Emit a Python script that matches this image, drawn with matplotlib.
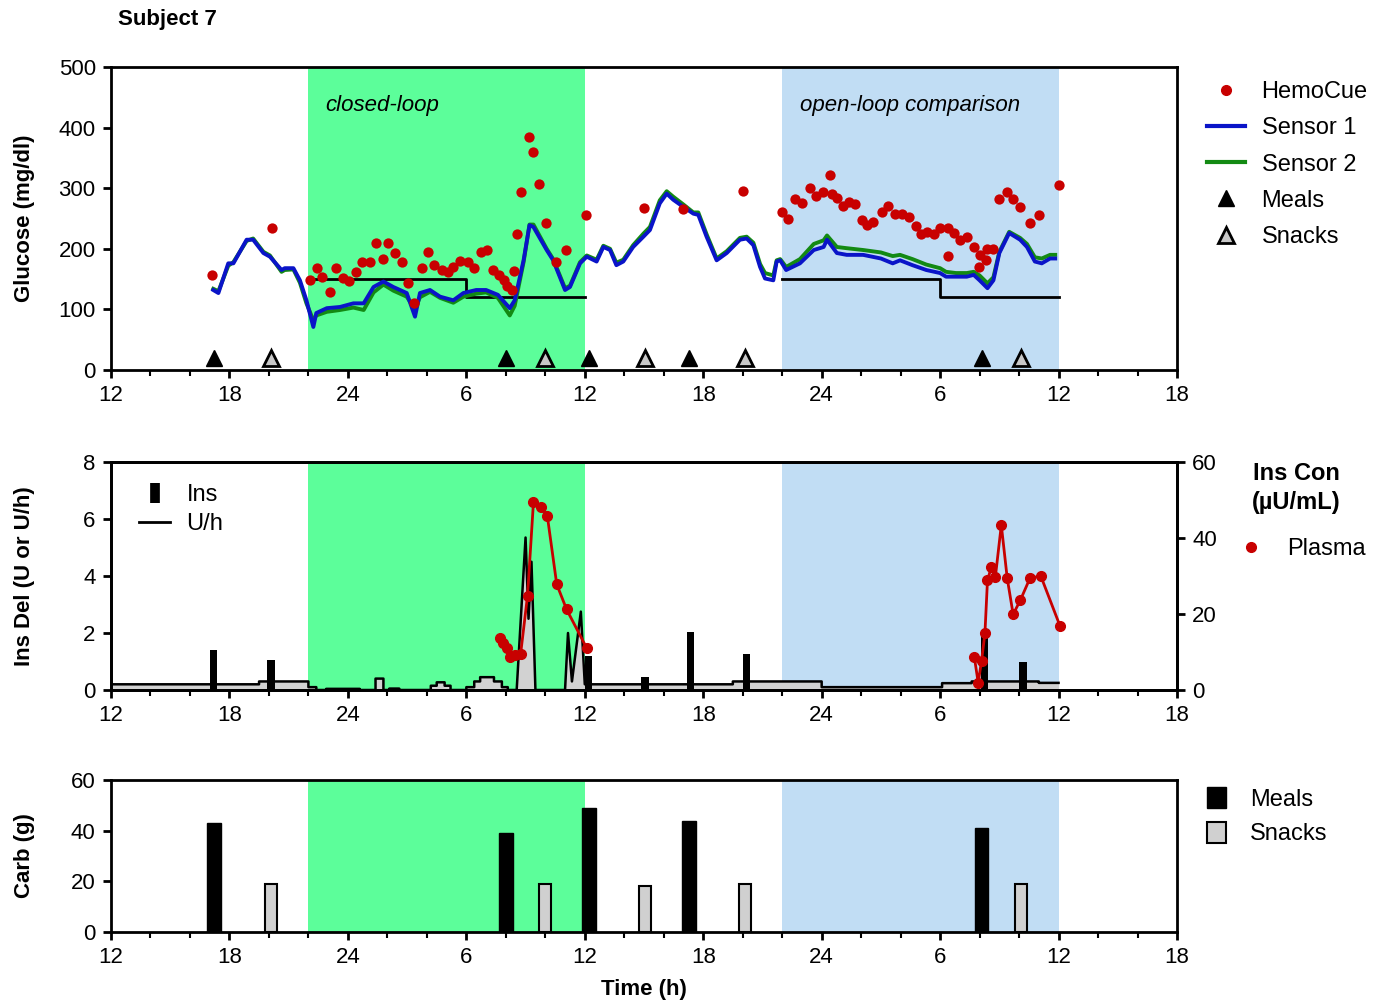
import matplotlib
matplotlib.use("Agg")
import matplotlib.pyplot as plt
from matplotlib.lines import Line2D
from matplotlib.patches import Patch
import numpy as np

plt.rcParams['font.family'] = ['Liberation Sans', 'DejaVu Sans']

# ---------------- data ----------------
x_ticks = [12, 18, 24, 30, 36, 42, 48, 54, 60, 66]
x_ticklabels = ['12', '18', '24', '6', '12', '18', '24', '6', '12', '18']
closed_loop = (22, 36)
open_loop = (46, 60)

sensor1_t = [17.18, 17.44, 17.94, 18.2, 18.87, 19.2, 19.72, 20.05, 20.64, 20.8, 21.24, 21.57,
             21.9, 22.25, 22.4, 22.93, 23.6, 24.28, 24.8, 25.3, 25.8, 26.3, 26.98, 27.4, 27.65,
             28.16, 28.67, 29.34, 29.85, 30.5, 31.0, 31.6, 32.2, 32.45, 32.9, 33.2, 33.4, 34.07,
             34.4, 35.0, 35.25, 35.76, 36.1, 36.6, 36.94, 37.28, 37.6, 37.95, 38.45, 38.97, 39.3,
             39.8, 40.15, 40.48, 41.0, 41.5, 41.75, 42.17, 42.68, 43.19, 43.86, 44.2, 44.54, 44.88,
             45.13, 45.55, 45.72, 45.9, 46.2, 46.9, 47.6, 48.1, 48.27, 48.77, 49.27, 50.1, 51.0,
             51.6, 51.97, 52.6, 53.3, 54.0, 54.3, 54.8, 55.35, 55.7, 56.0, 56.4, 56.7, 57.0, 57.5,
             58.05, 58.4, 58.8, 59.15, 59.57, 59.83]
sensor1_g = [132, 127, 176, 176, 215, 215, 193, 187, 165, 168, 168, 148,
             115, 71, 94, 102, 104, 110, 110, 137, 146, 137, 127, 88, 127,
             132, 121, 115, 127, 132, 132, 124, 102, 115, 181, 239, 236, 198,
             181, 132, 137, 176, 187, 179, 203, 198, 173, 179, 203, 220, 231,
             275, 291, 281, 269, 258, 256, 220, 181, 193, 215, 217, 206, 170,
             151, 148, 179, 181, 165, 176, 198, 203, 215, 193, 190, 190, 184,
             176, 181, 173, 165, 160, 154, 154, 154, 157, 148, 135, 148, 193, 226,
             215, 203, 179, 176, 184, 184]
sensor2_g = [134, 130, 172, 178, 213, 217, 195, 189, 162, 165, 166, 144,
             110, 82, 90, 96, 99, 103, 99, 128, 141, 131, 121, 100, 120,
             129, 119, 111, 121, 126, 128, 119, 90, 106, 178, 240, 240, 200,
             183, 135, 139, 178, 189, 182, 205, 200, 177, 182, 206, 225, 236,
             280, 295, 286, 273, 260, 260, 224, 184, 196, 218, 220, 210, 175,
             160, 156, 181, 183, 170, 183, 208, 214, 222, 203, 201, 198, 194,
             188, 190, 183, 174, 168, 162, 160, 160, 162, 156, 143, 153, 195, 228,
             218, 208, 186, 184, 190, 190]

hemocue_t = [17.1, 20.14, 22.08, 22.42, 22.67, 23.1, 23.4, 23.77, 24.07, 24.4, 24.7, 25.1,
             25.42, 25.76, 26.05, 26.4, 26.72, 27.06, 27.37, 27.74, 28.08, 28.38, 28.75, 29.06,
             29.34, 29.68, 30.07, 30.4, 30.74, 31.06, 31.37, 31.67, 31.9, 32.08, 32.3, 32.42,
             32.55, 32.76, 33.18, 33.4, 33.7, 34.04, 34.54, 35.05, 36.06, 39.0, 41.0, 44.0,
             46.0, 46.3, 46.65, 47.0, 47.4, 47.7, 48.05, 48.4, 48.5, 48.8, 49.1, 49.4, 49.7,
             50.03, 50.3, 50.6, 51.04, 51.38, 51.7, 52.05, 52.44, 52.78, 53.02, 53.32, 53.7,
             54.0, 54.42, 54.4, 54.72, 55.0, 55.35, 55.7, 55.95, 56.03, 56.3, 56.4, 56.7,
             57.0, 57.37, 57.7, 58.05, 58.55, 59.0, 60.03]
hemocue_g = [157, 234, 148, 168, 154, 128, 168, 151, 147, 162, 179, 179,
             210, 183, 209, 193, 179, 143, 110, 169, 194, 173, 165, 161,
             170, 180, 179, 168, 194, 198, 165, 157, 148, 139, 132, 164,
             224, 293, 385, 360, 307, 242, 179, 198, 256, 267, 266, 295,
             260, 249, 283, 276, 300, 287, 294, 321, 291, 284, 271, 278, 274,
             248, 239, 245, 260, 270, 258, 258, 253, 238, 224, 228, 224,
             234, 234, 188, 226, 215, 220, 203, 170, 190, 181, 200, 200,
             283, 294, 283, 269, 242, 256, 306]

target_t = [22, 30, 36]
target_g = [150, 120, 120]
target2_t = [46, 54, 60]
target2_g = [150, 120, 120]

meal_t = [17.2, 32.0, 36.2, 41.3, 56.1]
meal_carb = [43, 39, 49, 44, 41]
snack_t = [20.1, 34.0, 39.05, 44.1, 58.1]
snack_carb = [19, 19, 18, 19, 19]

bolus_t = [17.2, 20.1, 36.2, 39.05, 41.35, 44.2, 56.25, 58.2]
bolus_u = [1.4, 1.05, 1.2, 0.45, 2.05, 1.25, 1.9, 1.0]

rate_t = [12.0, 19.5, 19.5, 22.0, 22.0, 22.4, 22.4, 22.9, 22.9, 24.6, 24.6, 25.4, 25.4,
          25.8, 25.8, 26.1, 26.1, 26.6, 26.6, 28.2, 28.2, 28.5, 28.5, 28.9, 28.9, 29.2,
          29.2, 30.0, 30.0, 30.4, 30.4, 30.7, 30.7, 31.4, 31.4, 31.8, 31.8, 32.1, 32.1,
          32.55, 33.0, 33.15, 33.3, 33.5, 35.0, 35.15, 35.35, 35.8, 36.0, 36.0, 43.5, 43.5,
          48.0, 48.0, 54.1, 54.1, 55.6, 55.6, 59.0, 59.0, 60.0]
rate_u = [0.2, 0.2, 0.3, 0.3, 0.1, 0.1, 0.0, 0.0, 0.04, 0.04, 0.0, 0.0, 0.4,
          0.4, 0.0, 0.0, 0.05, 0.05, 0.0, 0.0, 0.15, 0.15, 0.27, 0.27, 0.15, 0.15,
          0.0, 0.0, 0.1, 0.1, 0.3, 0.3, 0.45, 0.45, 0.3, 0.3, 0.1, 0.1, 0.0,
          0.0, 5.35, 2.5, 4.5, 0.0, 0.0, 2.0, 0.3, 2.75, 0.2, 0.2, 0.2, 0.3,
          0.3, 0.1, 0.1, 0.24, 0.24, 0.3, 0.3, 0.25, 0.25]

plasma1_t = [31.7, 31.87, 32.05, 32.2, 32.47, 32.75, 33.1, 33.4, 33.77, 34.1, 34.58, 35.08, 36.1]
plasma1_c = [13.6, 12.5, 11.0, 8.8, 9.2, 9.5, 24.8, 49.4, 48.1, 45.9, 27.8, 21.2, 11.0]
plasma2_t = [55.73, 55.93, 56.1, 56.27, 56.4, 56.6, 56.8, 57.1, 57.4, 57.7, 58.07, 58.55, 59.1, 60.07]
plasma2_c = [8.8, 1.9, 7.7, 14.9, 28.9, 32.4, 29.8, 43.4, 29.4, 19.9, 23.7, 29.4, 30.0, 16.9]

# ---------------- styles ----------------
GREEN_BAND = '#5cfe9a'
BLUE_BAND = '#c1ddf4'
RED = '#c80000'
BLUE = '#0a14c8'
GREEN = '#138a13'
GRAY = '#d2d2d2'
TICK_FS = 16
LAB_FS = 16
LEG_FS = 16

fig = plt.figure(figsize=(13.8, 10.08), dpi=100)
W, H = 1380, 1008
def axrect(l, t, r, b):
    return [l / W, 1 - b / H, (r - l) / W, (b - t) / H]

ax1 = fig.add_axes(axrect(111, 67, 1177, 370))
ax2 = fig.add_axes(axrect(111, 462, 1177, 690))
ax3 = fig.add_axes(axrect(111, 780, 1177, 932))

for ax in (ax1, ax2, ax3):
    ax.set_xlim(12, 66)
    ax.set_xticks(x_ticks)
    ax.set_xticklabels(x_ticklabels)
    ax.set_xticks(np.arange(12, 67, 2), minor=True)
    ax.axvspan(*closed_loop, color=GREEN_BAND, lw=0, zorder=0)
    ax.axvspan(*open_loop, color=BLUE_BAND, lw=0, zorder=0)
    for s in ax.spines.values():
        s.set_linewidth(2.0)
    ax.tick_params(axis='both', which='major', labelsize=TICK_FS, width=2, length=6, direction='out', pad=5)
    ax.tick_params(axis='x', which='minor', width=1.5, length=4, direction='out')

# ---------------- top panel ----------------
ax1.set_ylim(0, 500)
ax1.set_yticks(range(0, 501, 100))
ax1.step(target_t, target_g, where='post', color='black', lw=2, zorder=2)
ax1.step(target2_t, target2_g, where='post', color='black', lw=2, zorder=2)
ax1.plot(sensor1_t, sensor2_g, color=GREEN, lw=2.8, zorder=3)
ax1.plot(sensor1_t, sensor1_g, color=BLUE, lw=2.8, zorder=4)
ax1.scatter(hemocue_t, hemocue_g, s=55, color=RED, zorder=5, linewidths=0)
ax1.plot(meal_t, [20] * len(meal_t), ls='none', marker='^', ms=12, color='black', zorder=6)
ax1.plot(snack_t, [20] * len(snack_t), ls='none', marker='^', ms=12, mfc='#c8c8c8', mec='black', mew=2, zorder=6)
ax1.text(22.85, 437, 'closed-loop', style='italic', fontsize=16, va='center', ha='left')
ax1.text(46.9, 437, 'open-loop comparison', style='italic', fontsize=16, va='center', ha='left')
ax1.set_ylabel('Glucose (mg/dl)', fontsize=LAB_FS, fontweight='bold')
ax1.yaxis.set_label_coords(-76 / 1066, 0.5)

h1 = [Line2D([], [], ls='none', marker='o', ms=7, color=RED),
      Line2D([], [], color=BLUE, lw=3),
      Line2D([], [], color=GREEN, lw=3),
      Line2D([], [], ls='none', marker='^', ms=11, color='black'),
      Line2D([], [], ls='none', marker='^', ms=11, mfc='#c8c8c8', mec='black', mew=2)]
fig.legend(h1, ['HemoCue', 'Sensor 1', 'Sensor 2', 'Meals', 'Snacks'],
           loc='upper left', bbox_to_anchor=(1186 / W, 1 - 60 / H), frameon=False,
           fontsize=LEG_FS + 1, handlelength=1.6, handletextpad=0.7, labelspacing=0.6)

fig.text(118 / W, 1 - 20 / H, 'Subject 7', fontsize=16, fontweight='bold', va='center', ha='left')

# ---------------- middle panel ----------------
ax2.set_ylim(0, 8)
ax2.set_yticks(range(0, 9, 2))
ax2.fill_between(rate_t, rate_u, 0, color=GRAY, lw=0, zorder=1)
ax2.plot(rate_t, rate_u, color='black', lw=1.8, zorder=2)
ax2.bar(bolus_t, bolus_u, width=0.38, color='black', zorder=3)
ax2.set_ylabel('Ins Del (U or U/h)', fontsize=LAB_FS, fontweight='bold')
ax2.yaxis.set_label_coords(-76 / 1066, 0.5)
ax2r = ax2.twinx()
ax2r.set_ylim(0, 60)
ax2r.set_yticks(range(0, 61, 20))
ax2r.tick_params(axis='y', labelsize=TICK_FS, width=2, length=6, pad=5)
for s in ax2r.spines.values():
    s.set_linewidth(2.0)
ax2r.plot(plasma1_t, plasma1_c, color=RED, lw=2, marker='o', ms=7, zorder=5)
ax2r.plot(plasma2_t, plasma2_c, color=RED, lw=2, marker='o', ms=7, zorder=5)

h2 = [Line2D([], [], ls='none', marker='|', ms=14, mew=7, color='black'),
      Line2D([], [], color='black', lw=2)]
ax2.legend(h2, ['Ins', 'U/h'], loc='upper left', bbox_to_anchor=(118 / W, 1 - 463 / H),
           bbox_transform=fig.transFigure, frameon=False, fontsize=LEG_FS + 1,
           handlelength=1.3, handletextpad=0.7, labelspacing=0.3)
fig.text(1296 / W, 1 - 473 / H, 'Ins Con', fontsize=17, fontweight='bold', ha='center', va='center')
fig.text(1296 / W, 1 - 503 / H, '(\u00b5U/mL)', fontsize=17, fontweight='bold', ha='center', va='center')
h2r = [Line2D([], [], ls='none', marker='o', ms=7, color=RED)]
fig.legend(h2r, ['Plasma'], loc='center left', bbox_to_anchor=(1216 / W, 1 - 549 / H),
           frameon=False, fontsize=LEG_FS + 1, handlelength=1.2, handletextpad=0.9)

# ---------------- bottom panel ----------------
ax3.set_ylim(0, 60)
ax3.set_yticks(range(0, 61, 20))
ax3.bar(meal_t, meal_carb, width=0.7, color='black', edgecolor='black', zorder=3)
ax3.bar(snack_t, snack_carb, width=0.6, color='#d0d0d0', edgecolor='black', lw=1.5, zorder=3)
ax3.set_ylabel('Carb (g)', fontsize=LAB_FS, fontweight='bold')
ax3.yaxis.set_label_coords(-76 / 1066, 0.5)
ax3.set_xlabel('Time (h)', fontsize=LAB_FS, fontweight='bold', labelpad=8)
h3 = [Patch(facecolor='black', edgecolor='black'),
      Patch(facecolor='#d0d0d0', edgecolor='black', lw=1.5)]
fig.legend(h3, ['Meals', 'Snacks'], loc='upper left', bbox_to_anchor=(1186 / W, 1 - 766 / H),
           frameon=False, fontsize=LEG_FS + 1, handlelength=0.8, handleheight=1.0,
           handletextpad=1.0, labelspacing=0.45)

fig.savefig('out.png', dpi=100)
